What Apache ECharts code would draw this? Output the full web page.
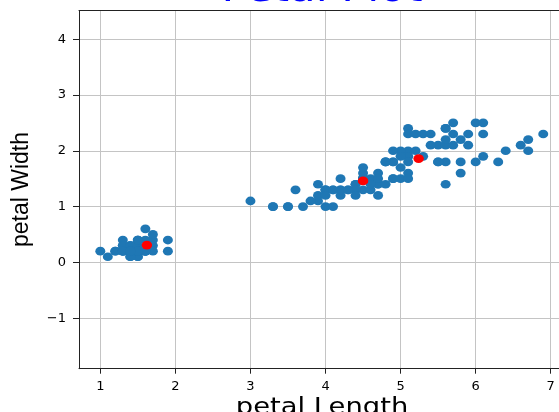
<!DOCTYPE html>
<html>
<head>
<meta charset="utf-8">
<script src="https://cdn.jsdelivr.net/npm/echarts@6/dist/echarts.min.js"></script>
<style>
html,body{margin:0;padding:0;background:#fff;}
#chart{width:559px;height:412px;}
</style>
</head>
<body>
<div id="chart"></div>
<script>
const petalLength = [
1.4,1.4,1.3,1.5,1.4,1.7,1.4,1.5,1.4,1.5,1.5,1.6,1.4,1.1,1.2,1.5,1.3,1.4,1.7,1.5,
1.7,1.5,1.0,1.7,1.9,1.6,1.6,1.5,1.4,1.6,1.6,1.5,1.5,1.4,1.5,1.2,1.3,1.4,1.3,1.5,
1.3,1.3,1.3,1.6,1.9,1.4,1.6,1.4,1.5,1.4,
4.7,4.5,4.9,4.0,4.6,4.5,4.7,3.3,4.6,3.9,3.5,4.2,4.0,4.7,3.6,4.4,4.5,4.1,4.5,3.9,
4.8,4.0,4.9,4.7,4.3,4.4,4.8,5.0,4.5,3.5,3.8,3.7,3.9,5.1,4.5,4.5,4.7,4.4,4.1,4.0,
4.4,4.6,4.0,3.3,4.2,4.2,4.2,4.3,3.0,4.1,
6.0,5.1,5.9,5.6,5.8,6.6,4.5,6.3,5.8,6.1,5.1,5.3,5.5,5.0,5.1,5.3,5.5,6.7,6.9,5.0,
5.7,4.9,6.7,4.9,5.7,6.0,4.8,4.9,5.6,5.8,6.1,6.4,5.6,5.1,5.6,6.1,5.6,5.5,4.8,5.4,
5.6,5.1,5.1,5.9,5.7,5.2,5.0,5.2,5.4,5.1
];
const petalWidth = [
0.2,0.2,0.2,0.2,0.2,0.4,0.3,0.2,0.2,0.1,0.2,0.2,0.1,0.1,0.2,0.4,0.4,0.3,0.3,0.3,
0.2,0.4,0.2,0.5,0.2,0.2,0.4,0.2,0.2,0.2,0.2,0.4,0.1,0.2,0.2,0.2,0.2,0.1,0.2,0.2,
0.3,0.3,0.2,0.6,0.4,0.3,0.2,0.2,0.2,0.2,
1.4,1.5,1.5,1.3,1.5,1.3,1.6,1.0,1.3,1.4,1.0,1.5,1.0,1.4,1.3,1.4,1.5,1.0,1.5,1.1,
1.8,1.3,1.5,1.2,1.3,1.4,1.4,1.7,1.5,1.0,1.1,1.0,1.2,1.6,1.5,1.6,1.5,1.3,1.3,1.3,
1.2,1.4,1.2,1.0,1.3,1.2,1.3,1.3,1.1,1.3,
2.5,1.9,2.1,1.8,2.2,2.1,1.7,1.8,1.8,2.5,2.0,1.9,2.1,2.0,2.4,2.3,1.8,2.2,2.3,1.5,
2.3,2.0,2.0,1.8,2.1,1.8,1.8,1.8,2.1,1.6,1.9,2.0,2.2,1.5,1.4,2.3,2.4,1.8,1.8,2.1,
2.4,2.3,1.9,2.3,2.5,2.3,1.9,2.0,2.3,1.8
];
// Red centres
const centerLength = [1.62, 4.50, 5.24];
const centerWidth  = [0.31, 1.46, 1.86];
// Tick labels
const xTicks = [1, 2, 3, 4, 5, 6, 7];
const yTicks = [-1, 0, 1, 2, 3, 4];
const titleText = 'Petal Plot';
const xName = 'petal Length';
const yName = 'petal Width';

const pts = petalLength.map((v, i) => [v, petalWidth[i]]);
const ctr = centerLength.map((v, i) => [v, centerWidth[i]]);

const chart = echarts.init(document.getElementById('chart'), null, {renderer: 'canvas'});
const tickFont = {fontFamily: 'DejaVu Sans', fontSize: 13, color: '#000'};
const spine = {show: true, onZero: false, lineStyle: {color: '#222', width: 1}};
const X_MIN = 0.716, X_MAX = 7.110, Y_MIN = -1.906, Y_MAX = 4.51;
chart.setOption({
  animation: false,
  backgroundColor: '#fff',
  grid: {left: 79, top: 10.7, right: 0, bottom: 43.3, show: false},
  xAxis: [{
    type: 'value', min: X_MIN, max: X_MAX, position: 'bottom',
    axisLine: spine,
    axisTick: {show: true, length: 5, inside: false, customValues: xTicks, lineStyle: {color: '#222'}},
    axisLabel: Object.assign({margin: 11, customValues: xTicks}, tickFont),
    splitLine: {show: true, lineStyle: {color: '#c4c4c4', width: 1}}
  }, {
    type: 'value', min: X_MIN, max: X_MAX, position: 'top',
    axisLine: spine, axisTick: {show: false}, axisLabel: {show: false}, splitLine: {show: false}
  }],
  yAxis: {
    type: 'value', min: Y_MIN, max: Y_MAX,
    axisLine: spine,
    axisTick: {show: true, length: 6, inside: false, customValues: yTicks, lineStyle: {color: '#222'}},
    axisLabel: Object.assign({margin: 13, customValues: yTicks, formatter: v => (v < 0 ? '\u2212' + Math.abs(v) : String(v))}, tickFont),
    splitLine: {show: true, lineStyle: {color: '#c4c4c4', width: 1}}
  },
  graphic: [
    {type: 'text', x: 322, y: -9, scaleX: 1.165, z: 100,
     style: {text: titleText, fontFamily: 'DejaVu Sans', fontSize: 37, fill: '#0000ff', align: 'center', verticalAlign: 'middle'}},
    {type: 'text', x: 322, y: 408, scaleX: 1.165, z: 100,
     style: {text: xName, fontFamily: 'DejaVu Sans', fontSize: 23.5, fill: '#000', align: 'center', verticalAlign: 'middle'}},
    {type: 'text', x: 21.5, y: 189.5, rotation: Math.PI / 2, z: 100,
     style: {text: yName, fontFamily: 'Liberation Sans', fontSize: 23, fill: '#000', align: 'center', verticalAlign: 'middle'}}
  ],
  series: [
    {type: 'scatter', xAxisIndex: 0, data: pts, symbol: 'circle', symbolSize: [10, 8.7], itemStyle: {color: '#1f77b4', opacity: 1}, z: 2},
    {type: 'scatter', xAxisIndex: 0, data: ctr, symbol: 'circle', symbolSize: [10.5, 8.7], itemStyle: {color: '#ff0000', opacity: 1}, z: 3}
  ]
});
</script>
</body>
</html>
